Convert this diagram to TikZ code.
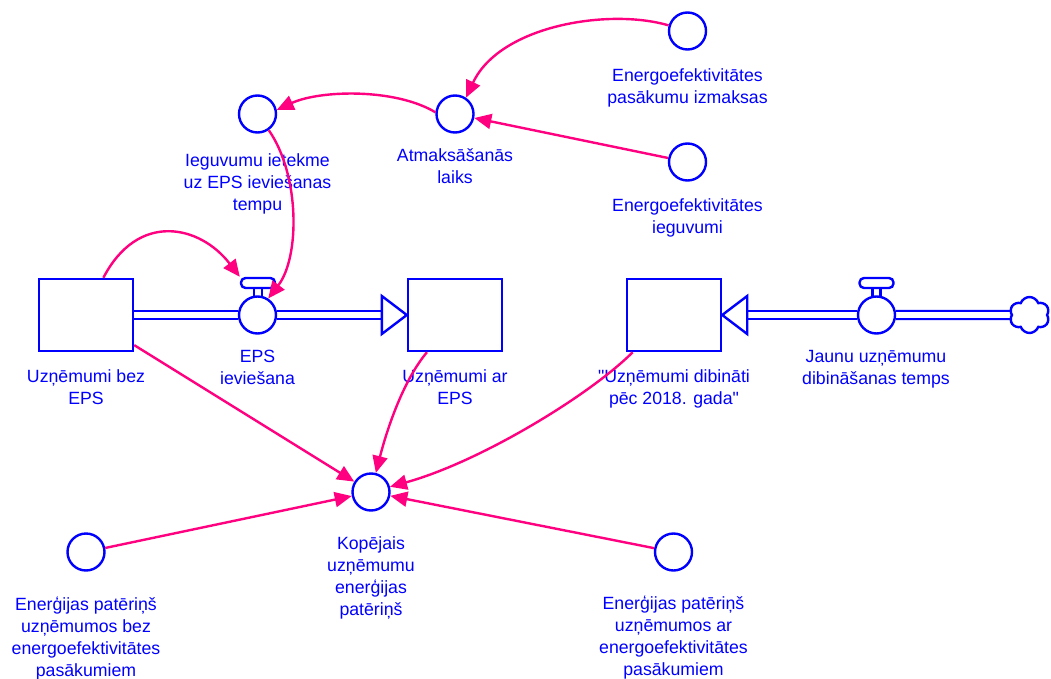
\documentclass[tikz,border=0pt]{standalone}
\usepackage{fontspec}
\setmainfont{Liberation Sans}[Ligatures=TeXOff]
\usetikzlibrary{arrows.meta,shapes.symbols,calc,backgrounds}
\definecolor{vblue}{RGB}{0,0,255}
\definecolor{linkpink}{RGB}{255,0,128}
\begin{document}
\begin{tikzpicture}[x=1pt,y=-1pt,
  stock/.style={draw=vblue, line width=2.4pt, fill=white, minimum width=94pt, minimum height=72pt, inner sep=0pt},
  aux/.style={circle, draw=vblue, line width=2.4pt, fill=white, minimum size=37pt, inner sep=0pt},
  handle/.style={draw=vblue, line width=2.4pt, fill=white, rounded corners=4.5pt, minimum width=34pt, minimum height=10pt, inner sep=0pt},
  stem/.style={draw=vblue, line width=2.4pt, fill=white, minimum width=8pt, minimum height=12pt, inner sep=0pt},
  pipe/.style={draw=vblue, line width=2.4pt, double=white, double distance=5.6pt},
  pipehead/.style={draw=vblue, line width=2.4pt, fill=white, line join=miter},
  source/.style={cloud, cloud puffs=6, cloud puff arc=140, aspect=1.15, draw=vblue, line width=2.4pt, fill=white, minimum width=40pt, minimum height=36pt, inner sep=0pt},
  lbl/.style={anchor=north, inner sep=0pt, align=center, text=vblue, font=\fontsize{17.7}{22}\selectfont},
  link/.style={draw=linkpink, line width=2.4pt, -{Triangle[length=17pt,width=15pt]}},
]
\useasboundingbox (0,0) rectangle (1051,679);

% stocks
\node[stock] (bez) at (86,315) {};
\node[stock] (ar) at (455,315) {};
\node[stock] (dib) at (674,315) {};
\node[source] (src) at (1029.5,315) {};

% valve: EPS ieviesana
\node[stem] (epss) at (258,293) {};
\node[aux] (epsv) at (257.5,315) {};
\node[handle] (epsh) at (258,283) {};

% valve: Jaunu uznemumu dibinasanas temps
\node[stem] (jvs) at (876.5,293) {};
\node[aux] (jv) at (876.5,315) {};
\node[handle] (jvh) at (876.5,283) {};

% auxiliaries
\node[aux] (ieg) at (257.5,114) {};
\node[aux] (atm) at (455,114) {};
\node[aux] (izm) at (687.5,31) {};
\node[aux] (ieu) at (687.5,162) {};
\node[aux] (kop) at (371,492) {};
\node[aux] (enb) at (86,552) {};
\node[aux] (ena) at (673.5,552) {};

% flow pipes
\begin{pgfonlayer}{background}
  \draw[pipe] (bez.east) -- (epsv.west);
  \draw[pipe] (epsv.east) -- ($(ar.west)+(-25,0)$);
  \draw[pipe] (src.west) -- (jv.east);
  \draw[pipe] (jv.west) -- ($(dib.east)+(25,0)$);
\end{pgfonlayer}
\draw[pipehead] (ar.west) -- ++(-25,-19) -- ++(0,38) -- cycle;
\draw[pipehead] (dib.east) -- ++(25,-19) -- ++(0,38) -- cycle;

% labels
\node[lbl] (l-bez) at (86,369) {Uzņēmumi bez\\EPS};
\node[lbl] (l-eps) at (257.5,349.5) {EPS\\ieviešana};
\node[lbl] (l-ar) at (455,369) {Uzņēmumi ar\\EPS};
\node[lbl] (l-dib) at (674,369) {"Uzņēmumi dibināti\\pēc 2018. gada"};
\node[lbl] (l-jv) at (876,349.8) {Jaunu uzņēmumu\\dibināšanas temps};
\node[lbl] (l-ieg) at (257.5,153.8) {Ieguvumu ietekme\\uz EPS ieviešanas\\tempu};
\node[lbl] (l-atm) at (455,148) {Atmaksāšanās\\laiks};
\node[lbl] (l-izm) at (687.5,68.3) {Energoefektivitātes\\pasākumu izmaksas};
\node[lbl] (l-ieu) at (687.5,198.3) {Energoefektivitātes\\ieguvumi};
\node[lbl] (l-kop) at (371,536.7) {Kopējais\\uzņēmumu\\enerģijas\\patēriņš};
\node[lbl] (l-enb) at (86,596.7) {Enerģijas patēriņš\\uzņēmumos bez\\energoefektivitātes\\pasākumiem};
\node[lbl] (l-ena) at (673.5,596) {Enerģijas patēriņš\\uzņēmumos ar\\energoefektivitātes\\pasākumiem};

% causal links
\draw[link] (bez.65) .. controls (138,211) and (200,225) .. (epsh.north west);
\draw[link] (ieg) .. controls (300,175) and (300,257) .. (epsv.57);
\draw[link] (atm.175) .. controls (395,88) and (320,90) .. (ieg.12);
\draw[link] (izm) .. controls (610,8) and (500,25) .. (atm.56);
\draw[link] (ieu) -- (atm);
\draw[link] (bez.-32) -- (kop);
\draw[link] (ar.233) .. controls (402,382) and (386,433) .. (kop);
\draw[link] (dib.222) .. controls (590,395) and (480,462) .. (kop);
\draw[link] (enb) -- (kop);
\draw[link] (ena) -- (kop);
\end{tikzpicture}
\end{document}
